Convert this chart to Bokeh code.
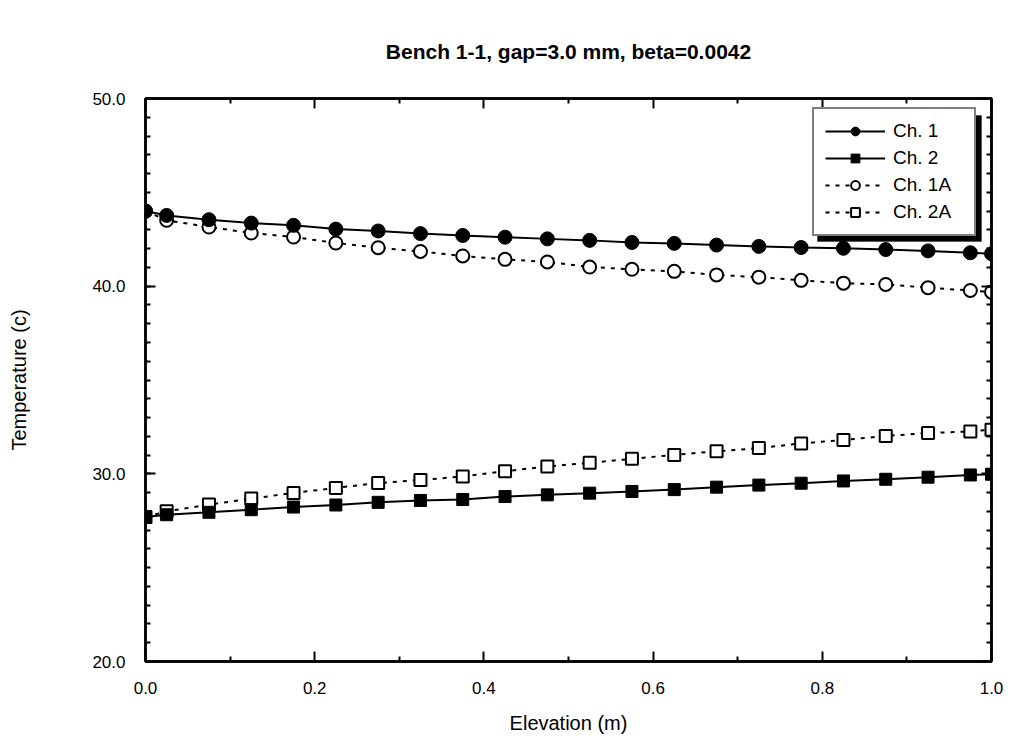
from bokeh.plotting import figure
from bokeh.models import (Range1d, LinearAxis, FixedTicker, PrintfTickFormatter,
                          CustomJSTickFormatter, Legend, LegendItem, BoxAnnotation)
from bokeh.embed import file_html
from bokeh.resources import INLINE

# ---- data ----
elevation = [0.0, 0.025, 0.075, 0.125, 0.175, 0.225, 0.275, 0.325, 0.375, 0.425, 0.475,
             0.525, 0.575, 0.625, 0.675, 0.725, 0.775, 0.825, 0.875, 0.925, 0.975, 1.0]
ch1 = [44.0, 43.77, 43.54, 43.36, 43.24, 43.04, 42.94, 42.80, 42.70, 42.61, 42.52,
       42.44, 42.33, 42.28, 42.19, 42.12, 42.06, 42.02, 41.95, 41.88, 41.78, 41.73]
ch1a = [44.0, 43.51, 43.15, 42.83, 42.62, 42.30, 42.05, 41.85, 41.61, 41.43, 41.29,
        41.02, 40.90, 40.79, 40.60, 40.48, 40.31, 40.16, 40.09, 39.92, 39.77, 39.68]
ch2 = [27.70, 27.82, 27.95, 28.09, 28.23, 28.34, 28.48, 28.58, 28.63, 28.79, 28.88,
       28.97, 29.06, 29.16, 29.29, 29.40, 29.50, 29.62, 29.71, 29.82, 29.94, 29.98]
ch2a = [27.70, 28.00, 28.36, 28.68, 28.98, 29.25, 29.51, 29.67, 29.86, 30.14, 30.39,
        30.59, 30.80, 31.01, 31.20, 31.37, 31.62, 31.80, 32.02, 32.17, 32.26, 32.35]

x_ticks = [0.0, 0.2, 0.4, 0.6, 0.8, 1.0]
x_minor = [0.1, 0.3, 0.5, 0.7, 0.9]
y_ticks = [20, 30, 40, 50]
y_minor = list(range(20, 51))

FONT = "Liberation Sans"

p = figure(width=1017, height=740, x_range=Range1d(0, 1), y_range=Range1d(20, 50),
           output_backend="svg", toolbar_location=None,
           min_border_left=145, min_border_right=26, min_border_top=98, min_border_bottom=79,
           title="Bench 1-1, gap=3.0 mm, beta=0.0042")
p.title.text_font = FONT
p.title.text_font_style = "bold"
p.title.text_font_size = "21px"
p.title.text_color = "black"
p.title.align = "center"
p.title.standoff = 72

p.grid.visible = False
p.outline_line_color = "black"
p.outline_line_width = 2.5
p.background_fill_color = "white"
p.border_fill_color = "white"

def style_axis(ax, ticks, minor, show_labels=True):
    ax.ticker = FixedTicker(ticks=ticks, minor_ticks=minor)
    ax.axis_line_color = "black"
    ax.axis_line_width = 2.5
    ax.major_tick_in = 10
    ax.major_tick_out = 0
    ax.minor_tick_in = 5
    ax.minor_tick_out = 0
    ax.major_tick_line_width = 2
    ax.minor_tick_line_width = 2
    if show_labels:
        ax.formatter = PrintfTickFormatter(format="%.1f")
        ax.major_label_text_font = FONT
        ax.major_label_text_font_size = "17px"
        ax.major_label_text_color = "black"
        ax.axis_label_text_font = FONT
        ax.axis_label_text_font_size = "20px"
        ax.axis_label_text_font_style = "normal"
        ax.axis_label_text_color = "black"
    else:
        ax.formatter = CustomJSTickFormatter(code="return ''")
        ax.major_label_standoff = 0

xa = p.xaxis[0]
ya = p.yaxis[0]
style_axis(xa, x_ticks, x_minor)
style_axis(ya, y_ticks, y_minor)
xa.axis_label = "Elevation (m)"
ya.axis_label = "Temperature (c)"
xa.major_label_standoff = 20
xa.axis_label_standoff = 15
ya.major_label_standoff = 20
ya.axis_label_standoff = 59

top_ax = LinearAxis()
style_axis(top_ax, x_ticks, x_minor, show_labels=False)
p.add_layout(top_ax, "above")
right_ax = LinearAxis()
style_axis(right_ax, y_ticks, y_minor, show_labels=False)
p.add_layout(right_ax, "right")

# dotted series first
l1a = p.line(elevation, ch1a, line_color="black", line_width=2, line_dash="4 6")
s1a = p.scatter(elevation, ch1a, marker="circle", size=13, fill_color="white",
                line_color="black", line_width=2)
l2a = p.line(elevation, ch2a, line_color="black", line_width=2, line_dash="4 6")
s2a = p.scatter(elevation, ch2a, marker="square", size=12, fill_color="white",
                line_color="black", line_width=2)
l1 = p.line(elevation, ch1, line_color="black", line_width=2)
s1 = p.scatter(elevation, ch1, marker="circle", size=14, fill_color="black",
               line_color="black")
l2 = p.line(elevation, ch2, line_color="black", line_width=2)
s2 = p.scatter(elevation, ch2, marker="square", size=12, fill_color="black",
               line_color="black")

shadow = BoxAnnotation(left=672, right=836, bottom=420, top=546,
                       left_units="screen", right_units="screen",
                       top_units="screen", bottom_units="screen",
                       fill_color="black", fill_alpha=1, line_color="black")
p.add_layout(shadow)

legend = Legend(items=[
    LegendItem(label="Ch. 1", renderers=[l1, s1]),
    LegendItem(label="Ch. 2", renderers=[l2, s2]),
    LegendItem(label="Ch. 1A", renderers=[l1a, s1a]),
    LegendItem(label="Ch. 2A", renderers=[l2a, s2a]),
], location=(667, 425))
legend.label_text_font = FONT
legend.label_text_font_size = "19px"
legend.label_text_color = "black"
legend.glyph_width = 60
legend.glyph_height = 22
legend.label_height = 22
legend.label_width = 70
legend.label_standoff = 8
legend.spacing = 5
legend.padding = 11
legend.margin = 0
legend.border_line_color = "black"
legend.border_line_width = 2
legend.background_fill_color = "white"
legend.background_fill_alpha = 1
p.add_layout(legend, "center")

open("out.html", "w").write(file_html(p, INLINE))
